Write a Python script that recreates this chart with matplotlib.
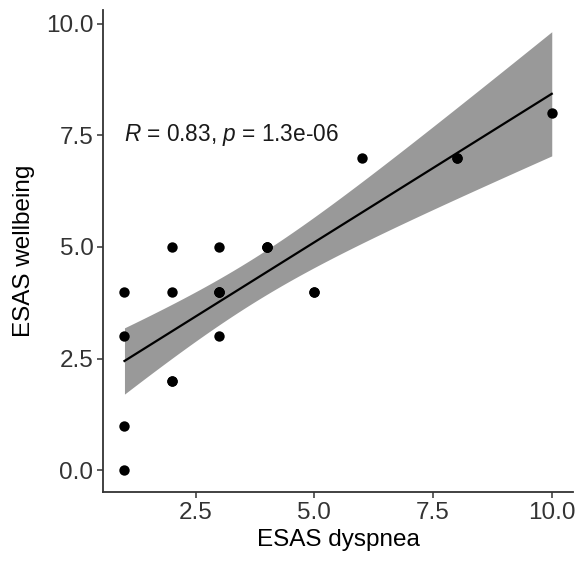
import numpy as np
import matplotlib
matplotlib.use('Agg')
import matplotlib.pyplot as plt

# Datos (ESAS): puntos visibles más los repetidos que se solapan
dyspnea = [1, 1, 1, 1, 2, 2, 2, 3, 3, 3, 4, 5, 6, 8, 10,
           3, 3, 4, 4, 8, 2, 5]
wellbeing = [0, 1, 3, 4, 2, 4, 5, 3, 4, 5, 5, 4, 7, 7, 8,
             4, 4, 5, 5, 7, 2, 4]
cor_label = r'$\mathit{R}$ = 0.83, $\mathit{p}$ = 1.3e-06'
x_ticks = [2.5, 5.0, 7.5, 10.0]
y_ticks = [0.0, 2.5, 5.0, 7.5, 10.0]

plt.rcParams['font.family'] = ['Liberation Sans', 'DejaVu Sans']
plt.rcParams['mathtext.fontset'] = 'custom'
plt.rcParams['mathtext.rm'] = 'Liberation Sans'
plt.rcParams['mathtext.it'] = 'Liberation Sans:italic'

x = np.array(dyspnea, dtype=float)
y = np.array(wellbeing, dtype=float)
n = len(x)

# Regresión lineal con intervalo de confianza al 95% (como geom_smooth)
slope, intercept = np.polyfit(x, y, 1)
resid = y - (intercept + slope * x)
s = np.sqrt(np.sum(resid ** 2) / (n - 2))
sxx = np.sum((x - x.mean()) ** 2)
t_crit = 2.086  # t(0.975, df=20)
xs = np.linspace(x.min(), x.max(), 80)
fit = intercept + slope * xs
hw = t_crit * s * np.sqrt(1 / n + (xs - x.mean()) ** 2 / sxx)

fig = plt.figure(figsize=(5.76, 5.63), dpi=100)
ax = fig.add_axes([0.179, 0.126, 0.816, 0.856])

ax.fill_between(xs, fit - hw, fit + hw, color='#999999', linewidth=0, zorder=1)
ax.plot(xs, fit, color='black', linewidth=1.6, zorder=2)
ax.scatter(x, y, s=56, color='black', zorder=3, linewidths=0)

ax.text(1, 7.5, cor_label, fontsize=16.3, va='center', ha='left', color='#1a1a1a')

ax.set_xlim(0.55, 10.45)
ax.set_ylim(-0.49, 10.3)
ax.set_xticks(x_ticks)
ax.set_yticks(y_ticks)
ax.set_xticklabels([f'{v:.1f}' for v in x_ticks])
ax.set_yticklabels([f'{v:.1f}' for v in y_ticks])

for side in ['top', 'right']:
    ax.spines[side].set_visible(False)
for side in ['left', 'bottom']:
    ax.spines[side].set_linewidth(1.3)
    ax.spines[side].set_color('#333333')

ax.tick_params(axis='both', direction='out', length=4, width=1.1, color='#333333',
               labelsize=17.5, labelcolor='#333333', pad=3)

ax.set_xlabel('ESAS dyspnea', fontsize=17.5, color='black', labelpad=4)
ax.set_ylabel('ESAS wellbeing', fontsize=17.5, color='black', labelpad=8)

plt.savefig('out.png', dpi=100)
